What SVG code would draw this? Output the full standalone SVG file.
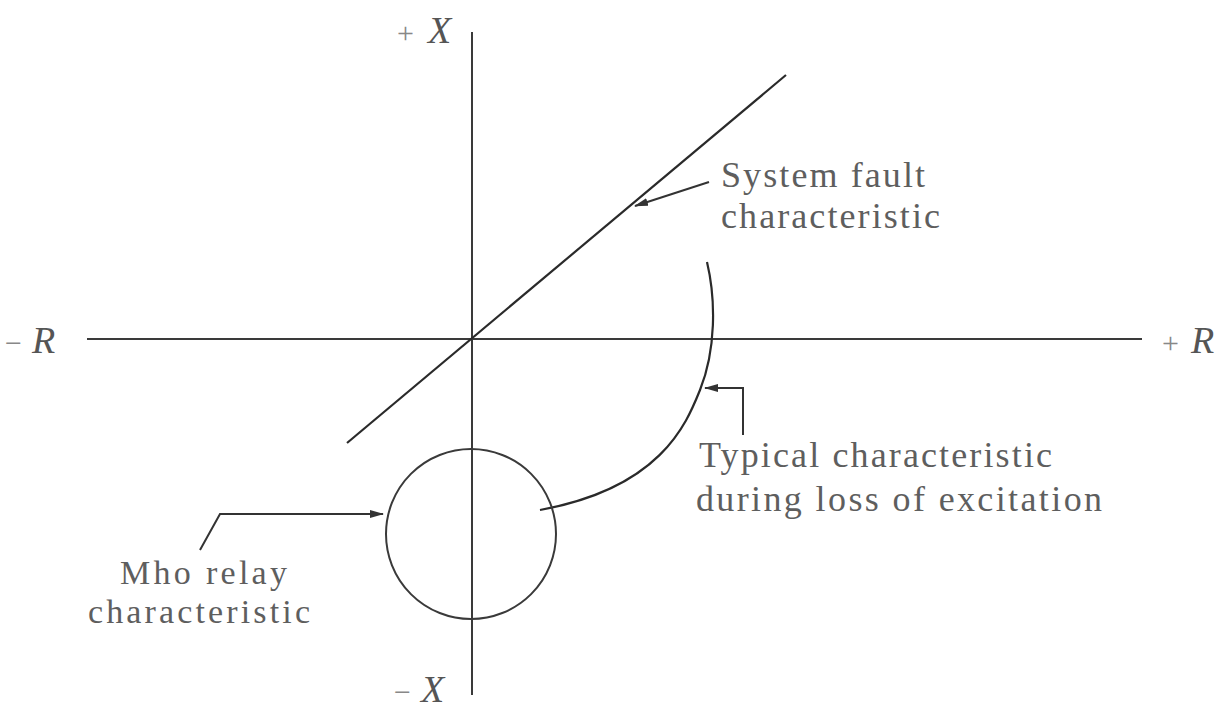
<svg xmlns="http://www.w3.org/2000/svg" width="1231" height="712" viewBox="0 0 1231 712">
<defs>
<marker id="ah" viewBox="0 0 14 10" refX="13" refY="5" markerWidth="14" markerHeight="10" markerUnits="userSpaceOnUse" orient="auto">
<path d="M0,1 L14,5 L0,9 z" fill="#333"/>
</marker>
</defs>
<style>
.ax{stroke:#3a3a3a;stroke-width:2;fill:none}
.cv{stroke:#2a2a2a;stroke-width:2.2;fill:none}
.ld{stroke:#333;stroke-width:2;fill:none}
.lbl{font-family:"Liberation Serif","DejaVu Serif",serif;font-size:36px;fill:#5e5e5e}
.sm{font-size:34px}
.axl{font-family:"Liberation Serif","DejaVu Serif",serif;font-size:38px;fill:#555;font-style:italic}
.sg{font-style:normal;fill:#888;font-size:30px}
</style>
<rect width="1231" height="712" fill="#fff"/>
<g id="axes">
<line class="ax" x1="87" y1="339" x2="1142" y2="339"/>
<line class="ax" x1="472" y1="32" x2="472" y2="695"/>
</g>
<g id="axis-labels" font-family="Liberation Serif, DejaVu Serif, serif">
<text class="axl" x="5" y="353"><tspan class="sg">−</tspan><tspan dx="10">R</tspan></text>
<text class="axl" x="1162" y="353"><tspan class="sg">+</tspan><tspan dx="12">R</tspan></text>
<text class="axl" x="397" y="43"><tspan class="sg">+</tspan><tspan dx="14">X</tspan></text>
<text class="axl" x="394" y="702"><tspan class="sg">−</tspan><tspan dx="10">X</tspan></text>
</g>
<g id="system-fault" font-family="Liberation Serif, DejaVu Serif, serif">
<line class="cv" x1="347" y1="443" x2="786" y2="75"/>
<text class="lbl" x="721" y="187" textLength="204" lengthAdjust="spacing">System fault</text>
<text class="lbl" x="721" y="228" textLength="219" lengthAdjust="spacing">characteristic</text>
</g>
<g id="loss-of-excitation" font-family="Liberation Serif, DejaVu Serif, serif">
<path class="cv" d="M707,262 C716,300 716,350 700,390 C686,425 660,488 540,510"/>
<text class="lbl" x="699" y="467" textLength="353" lengthAdjust="spacing">Typical characteristic</text>
<text class="lbl" x="696" y="511" textLength="406" lengthAdjust="spacing">during loss of excitation</text>
</g>
<g id="mho-relay" font-family="Liberation Serif, DejaVu Serif, serif">
<circle cx="471" cy="534" r="85" style="stroke:#3a3a3a;stroke-width:2;fill:none"/>
<text class="lbl sm" x="120" y="584" textLength="167" lengthAdjust="spacing">Mho relay</text>
<text class="lbl sm" x="88" y="623" textLength="222" lengthAdjust="spacing">characteristic</text>
</g>
<g id="connectors">
<path class="ld" d="M709,182 L635,206" marker-end="url(#ah)"/>
<path class="ld" d="M743,435 L743,388 L705,388" marker-end="url(#ah)"/>
<path class="ld" d="M200,550 L220,514 L383,514" marker-end="url(#ah)"/>
</g>
</svg>
